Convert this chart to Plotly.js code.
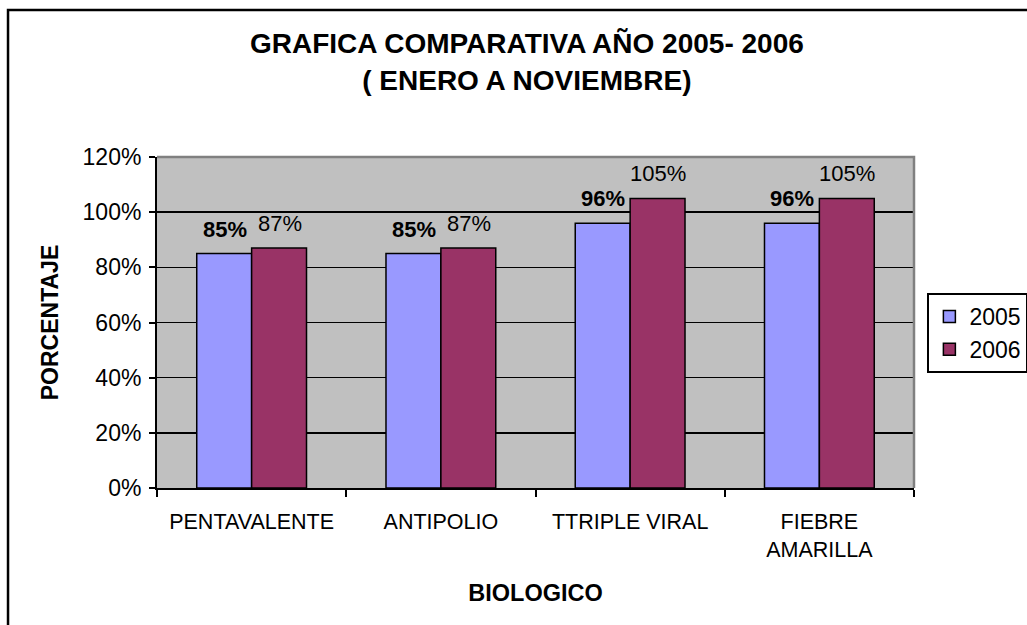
<!DOCTYPE html>
<html>
<head>
<meta charset="utf-8">
<script src="https://cdn.plot.ly/plotly-3.0.1.min.js"></script>
<style>
  body { margin: 0; background: #fff; }
  #plot { width: 1027px; height: 625px; }
</style>
</head>
<body>
<div id="plot"></div>
<script>
// categories and values
var biologicos = ["PENTAVALENTE", "ANTIPOLIO", "TTRIPLE VIRAL", "FIEBRE<br>AMARILLA"];
var valores2005 = [0.85, 0.85, 0.96, 0.96];
var valores2006 = [0.87, 0.87, 1.05, 1.05];
var yTicks = [0, 0.2, 0.4, 0.6, 0.8, 1.0, 1.2];

var fontFamily = "Liberation Sans, Arial, sans-serif";

var trace2005 = {
    x: biologicos,
    y: valores2005,
    name: "2005",
    type: "bar",
    marker: { color: "#9999FF", line: { color: "#000", width: 1.5 } }
};

var trace2006 = {
    x: biologicos,
    y: valores2006,
    name: "2006",
    type: "bar",
    marker: { color: "#993366", line: { color: "#000", width: 1.5 } }
};

// data labels: 2005 bold, 2006 regular, above each bar
var labels = [];
biologicos.forEach(function (cat, i) {
    labels.push({
        x: cat, y: valores2005[i], xref: "x", yref: "y",
        text: "<b>" + Math.round(valores2005[i] * 100) + "%</b>",
        showarrow: false, yanchor: "bottom", xshift: -27, yshift: 10,
        font: { family: fontFamily, size: 22, color: "#000" }
    });
    labels.push({
        x: cat, y: valores2006[i], xref: "x", yref: "y",
        text: Math.round(valores2006[i] * 100) + "%",
        showarrow: false, yanchor: "bottom", xshift: 28, yshift: 10,
        font: { family: fontFamily, size: 22, color: "#000" }
    });
});

var layout = {
    width: 1027,
    height: 625,
    margin: { l: 157, r: 113, t: 157, b: 137 },
    paper_bgcolor: "#fff",
    plot_bgcolor: "#C0C0C0",
    font: { family: fontFamily, size: 20, color: "#000" },
    barmode: "group",
    bargap: 0.42,
    bargroupgap: 0,
    title: {
        text: "<b>GRAFICA COMPARATIVA AÑO 2005- 2006<br>( ENERO A NOVIEMBRE)</b>",
        font: { family: fontFamily, size: 28, color: "#000" },
        x: 0.513, xref: "container", xanchor: "center",
        y: 0.915, yref: "container", yanchor: "middle"
    },
    xaxis: {
        type: "category",
        title: { text: "<b>BIOLOGICO</b>", font: { size: 23.5 }, standoff: 24 },
        tickfont: { size: 21.5 },
        ticklabelstandoff: 13,
        showline: true, linecolor: "#000", linewidth: 2,
        ticks: "outside", tickson: "boundaries", ticklen: 7, tickwidth: 2, tickcolor: "#000",
        showgrid: false, zeroline: false, automargin: false
    },
    yaxis: {
        range: [0, 1.2],
        tickvals: yTicks,
        tickformat: ".0%",
        tickfont: { size: 23 },
        ticklabelstandoff: 3,
        title: { text: "<b>PORCENTAJE</b>", font: { size: 23 }, standoff: 18 },
        showline: true, linecolor: "#000", linewidth: 2,
        ticks: "outside", ticklen: 6, tickwidth: 2, tickcolor: "#000",
        showgrid: true, gridcolor: "#000", gridwidth: 1.5,
        zeroline: false, automargin: false
    },
    legend: {
        xref: "container", x: 0.903, xanchor: "left",
        yref: "container", y: 0.5312, yanchor: "top",
        bgcolor: "#fff",
        bordercolor: "#000", borderwidth: 2,
        font: { size: 23 },
        traceorder: "normal"
    },
    annotations: labels,
    shapes: [
        // plot area frame, top and right in grey
        { type: "path", xref: "paper", yref: "paper", path: "M 0 1 L 1 1 L 1 0",
          line: { color: "#808080", width: 2.5 }, layer: "above" },
        // outer chart border
        { type: "rect", xref: "paper", yref: "paper",
          x0: -0.1968, x1: 1.3, y0: -0.6, y1: 1.444,
          line: { color: "#000", width: 2.5 }, layer: "above" }
    ]
};

Plotly.newPlot("plot", [trace2005, trace2006], layout, { displayModeBar: false, staticPlot: true });
</script>
</body>
</html>
